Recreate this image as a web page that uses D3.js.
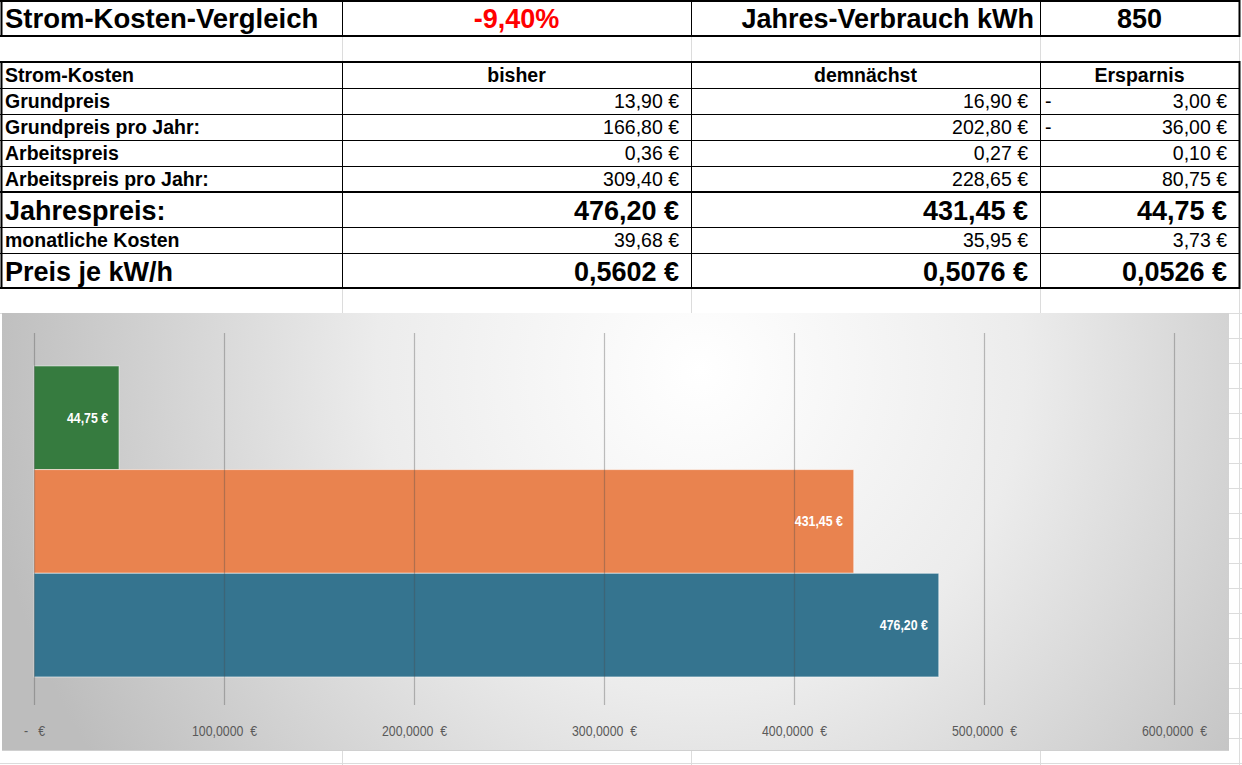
<!DOCTYPE html>
<html><head><meta charset="utf-8">
<script src="https://cdn.jsdelivr.net/npm/d3@7"></script>
<style>
html,body{margin:0;padding:0;background:#fff;}
svg{display:block;}
</style></head>
<body>
<svg id="c" width="1242" height="765"></svg>
<script>
// ---- data ----
const titleText = "Strom-Kosten-Vergleich";
const changePct = -0.0940;
const consumptionLabel = "Jahres-Verbrauch kWh";
const consumption = 850;
const columns = ["Strom-Kosten", "bisher", "demnächst", "Ersparnis"];
const rowLabels = ["Grundpreis", "Grundpreis pro Jahr:", "Arbeitspreis", "Arbeitspreis pro Jahr:", "Jahrespreis:", "monatliche Kosten", "Preis je kW/h"];
const bisher     = [13.90, 166.80, 0.36, 309.40, 476.20, 39.68, 0.5602];
const demnaechst = [16.90, 202.80, 0.27, 228.65, 431.45, 35.95, 0.5076];
const ersparnis  = [-3.00, -36.00, 0.10, 80.75, 44.75, 3.73, 0.0526];
const rowDecimals = [2, 2, 2, 2, 2, 2, 4];
const rowBig = [false, false, false, false, true, false, true];

const barSeries = ["Ersparnis", "demnächst", "bisher"];
const barValues = [44.75, 431.45, 476.20];
const barColors = ["#367b3f", "#e9834f", "#35748f"];
const xTicks = [0, 100, 200, 300, 400, 500, 600];

// ---- helpers ----
const de = d3.formatLocale({decimal: ",", thousands: ".", grouping: [3], currency: ["", " €"], minus: "-"});
const fmt = (v, d) => de.format("," + "." + d + "f")(v) + " €";

const svg = d3.select("#c");
const W = 1242, H = 765;
const colX = [1, 342, 691, 1040, 1239];
const FONT = "'Liberation Sans', Arial, sans-serif";

svg.append("rect").attr("width", W).attr("height", H).attr("fill", "#fff");

// light spreadsheet grid
const grid = svg.append("g").attr("stroke", "#dcdcdc").attr("stroke-width", 1);
[[36, 61], [288, 313], [750, 765]].forEach(([a, b]) => {
  colX.slice(1).forEach(x => grid.append("line").attr("x1", x + 0.5).attr("x2", x + 0.5).attr("y1", a).attr("y2", b));
});
grid.append("line").attr("x1", 0).attr("x2", W).attr("y1", 313.5).attr("y2", 313.5);
grid.append("line").attr("x1", 0).attr("x2", W).attr("y1", 763.5).attr("y2", 763.5);
grid.append("line").attr("x1", 1239.5).attr("x2", 1239.5).attr("y1", 313).attr("y2", 765);
d3.range(338, 765, 25).forEach(y => grid.append("line").attr("x1", 1229).attr("x2", W).attr("y1", y + 0.5).attr("y2", y + 0.5));

// ---- table texts ----
const T = svg.append("g").attr("font-family", FONT).attr("fill", "#000");
// title row
T.append("text").attr("x", 5).attr("y", 28).attr("font-size", 27.5).attr("font-weight", "bold").text(titleText);
T.append("text").attr("x", (colX[1] + colX[2]) / 2).attr("y", 28).attr("text-anchor", "middle")
  .attr("font-size", 27).attr("font-weight", "bold").attr("fill", "#ff0000")
  .text(de.format(".2f")(changePct * 100) + "%");
T.append("text").attr("x", colX[3] - 6).attr("y", 28).attr("text-anchor", "end")
  .attr("font-size", 27).attr("font-weight", "bold").text(consumptionLabel);
T.append("text").attr("x", (colX[3] + colX[4]) / 2).attr("y", 28).attr("text-anchor", "middle")
  .attr("font-size", 27).attr("font-weight", "bold").text(consumption);

// header row
T.append("text").attr("x", 5).attr("y", 82).attr("font-size", 19.5).attr("font-weight", "bold").text(columns[0]);
columns.slice(1).forEach((c, i) => {
  T.append("text").attr("x", (colX[i + 1] + colX[i + 2]) / 2).attr("y", 82).attr("text-anchor", "middle")
    .attr("font-size", 19.5).attr("font-weight", "bold").text(c);
});

const rowBot = [114, 140, 166, 192, 227, 253, 288];
rowLabels.forEach((lab, i) => {
  const big = rowBig[i];
  const fs = big ? 27 : 19.5;
  const by = rowBot[i] - (big ? 7 : 6);
  T.append("text").attr("x", 5).attr("y", by).attr("font-size", fs).attr("font-weight", "bold").text(lab);
  const vals = [bisher[i], demnaechst[i], ersparnis[i]];
  vals.forEach((v, j) => {
    T.append("text").attr("x", colX[j + 2] - 12).attr("y", by).attr("text-anchor", "end")
      .attr("font-size", fs).attr("font-weight", big ? "bold" : "normal")
      .text(fmt(Math.abs(v), rowDecimals[i]));
    if (v < 0) {
      T.append("text").attr("x", colX[j + 1] + 5).attr("y", by).attr("font-size", fs).text("-");
    }
  });
});

// ---- table borders ----
const B = svg.append("g").attr("stroke", "#000");
function hl(y, x1, x2, w) { B.append("line").attr("x1", x1).attr("x2", x2).attr("y1", y).attr("y2", y).attr("stroke-width", w); }
function vl(x, y1, y2, w) { B.append("line").attr("x1", x).attr("x2", x).attr("y1", y1).attr("y2", y2).attr("stroke-width", w); }
// title box
hl(1, 0, 1240, 2);
hl(36, 0, 1240, 2);
colX.forEach((x, i) => vl(x + 0.5, 0, 37, (i === 0 || i === 4) ? 2 : 1));
// table
hl(62, 0, 1240, 2);
[88, 114, 140, 166, 227, 253].forEach(y => hl(y + 0.5, 0, 1240, 1));
hl(192, 0, 1240, 2);
hl(288, 0, 1240, 2);
colX.forEach((x, i) => vl(x + 0.5, 61, 289, (i === 0 || i === 4) ? 2 : 1));

// ---- chart ----
const defs = svg.append("defs");
const rg = defs.append("radialGradient").attr("id", "bg").attr("gradientUnits", "userSpaceOnUse")
  .attr("cx", 700).attr("cy", 370).attr("r", 720).attr("fx", 700).attr("fy", 370);
rg.append("stop").attr("offset", "0%").attr("stop-color", "#ffffff");
rg.append("stop").attr("offset", "45%").attr("stop-color", "#ececec");
rg.append("stop").attr("offset", "100%").attr("stop-color", "#bdbdbd");

const chartX = 2, chartY = 313, chartW = 1227, chartH = 437;
svg.append("rect").attr("x", chartX).attr("y", chartY + 1).attr("width", chartW).attr("height", chartH)
  .attr("fill", "#d0d0d0");
svg.append("rect").attr("x", chartX).attr("y", chartY).attr("width", chartW).attr("height", chartH)
  .attr("fill", "url(#bg)");

const x = d3.scaleLinear().domain([0, 600]).range([34, 1174]);
const y = d3.scaleBand().domain(barSeries).range([333, 705]).paddingInner(0).paddingOuter(0.294).align(0.54);

const bars = svg.append("g");
bars.selectAll("rect").data(barSeries).join("rect")
  .attr("x", x(0)).attr("y", d => y(d))
  .attr("width", (d, i) => x(barValues[i]) - x(0)).attr("height", y.bandwidth())
  .attr("fill", (d, i) => barColors[i])
  .attr("stroke", "rgba(255,255,255,0.55)").attr("stroke-width", 1);

// gridlines (drawn over bars, translucent)
svg.append("g").selectAll("line").data(xTicks).join("line")
  .attr("x1", d => Math.round(x(d)) + 0.5).attr("x2", d => Math.round(x(d)) + 0.5)
  .attr("y1", 333).attr("y2", 705)
  .attr("stroke", "#4a4a4a").attr("stroke-opacity", 0.35).attr("stroke-width", 1.2);

// data labels
svg.append("g").selectAll("text").data(barSeries).join("text")
  .attr("transform", (d, i) => `translate(${x(barValues[i]) - 11},${y(d) + y.bandwidth() / 2}) scale(0.85,1)`)
  .attr("text-anchor", "end").attr("dominant-baseline", "central")
  .attr("font-family", FONT).attr("font-weight", "bold").attr("font-size", 14.5).attr("fill", "#fff")
  .text((d, i) => fmt(barValues[i], 2));

// x axis labels
const axis = d3.axisBottom(x).tickValues(xTicks).tickSize(0).tickPadding(0)
  .tickFormat(d => d === 0 ? "-\u00a0\u00a0\u00a0€" : de.format(",.4f")(d) + "\u00a0\u00a0€");
const ag = svg.append("g").attr("transform", "translate(0,726)").call(axis);
ag.select(".domain").remove();
ag.selectAll("text").attr("font-family", FONT).attr("font-size", 14.5).attr("fill", "#595959")
  .attr("transform", "scale(0.85,1)").attr("x", 0);
</script>
</body></html>
